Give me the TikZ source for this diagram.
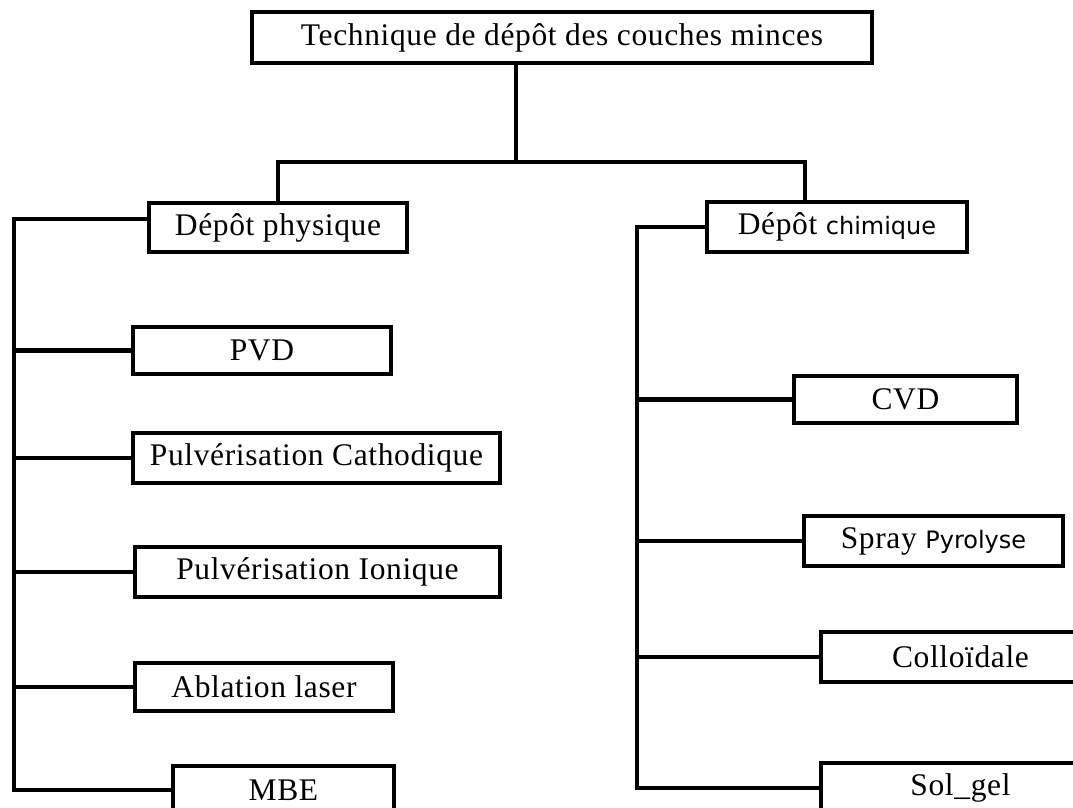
\documentclass[tikz,border=0pt]{standalone}
\usepackage{fontspec}
\setmainfont{Liberation Serif}[LetterSpace=2]
\newfontfamily\sansmot{DejaVu Sans}
\usepackage{tikz}
\usetikzlibrary{positioning}
\newcommand{\sm}[1]{{\sansmot\fontsize{24}{28}\selectfont #1}}
\tikzset{
  boite/.style ={draw=black, fill=white, line width=4.5pt, inner sep=0pt,
                 font=\fontsize{31.5}{36}\selectfont, minimum height=48pt},
  lien/.style  ={draw=black, line width=4.5pt},
}

\begin{document}
\begin{tikzpicture}[x=1pt,y=-1pt]
\clip (0,0) rectangle (1073,807);
\fill[white] (0,0) rectangle (1073,807);

% racine
\node[boite,minimum width=620pt,minimum height=51pt] (tech) at (562,37.5) {Technique de dépôt des couches minces};

% deux familles
\node[boite,minimum width=258pt,minimum height=49pt] (phys) at (278,227.5) {Dépôt physique};
\node[boite,minimum width=260pt,minimum height=50pt] (chim) at (837,227) {Dépôt \sm{chimique}};

% voie physique
\node[boite,minimum width=258pt,minimum height=47pt] (pvd)  at (262,350.5) {PVD};
\node[boite,minimum width=367pt,minimum height=50pt] (cath) at (316.5,458) {Pulvérisation Cathodique};
\node[boite,minimum width=365pt,minimum height=50pt] (ion)  at (317.5,572) {Pulvérisation Ionique};
\node[boite,minimum width=258pt] (abl)  at (264,687) {Ablation laser};
\node[boite,minimum width=221pt] (mbe)  at (283.5,790) {MBE};

% voie chimique
\node[boite,minimum width=223pt,minimum height=47pt] (cvd)   at (905.5,399.5) {CVD};
\node[boite,minimum width=259pt,minimum height=50pt] (spray) at (933.5,541) {Spray \sm{Pyrolyse}};
\node[boite,minimum width=279pt,minimum height=50pt] (coll)  at (960.5,657) {Colloïdale};
\node[boite,minimum width=279pt,minimum height=50pt] (sol)   at (960.5,788) {Sol\_gel};

% liaisons du haut
\coordinate (jn) at (516,162);
\coordinate (jd) at (805,162);
\draw[lien] (tech.south -| jn) -- (jn);
\draw[lien] (phys.north) |- (jd) -- (jd |- chim.north);

% colonne gauche
\coordinate (lhaut) at (14,219);
\draw[lien] (lhaut -| phys.west) -- (lhaut) |- (mbe.west);
\foreach \n in {pvd,cath,ion,abl}
  \draw[lien] (\n.west) -- (\n.west -| lhaut);

% colonne droite
\coordinate (rbas) at (637,788);
\draw[lien] (chim.west) -| (rbas) -- (sol.west);
\foreach \n in {cvd,spray,coll}
  \draw[lien] (\n.west) -- (\n.west -| rbas);
\end{tikzpicture}
\end{document}
